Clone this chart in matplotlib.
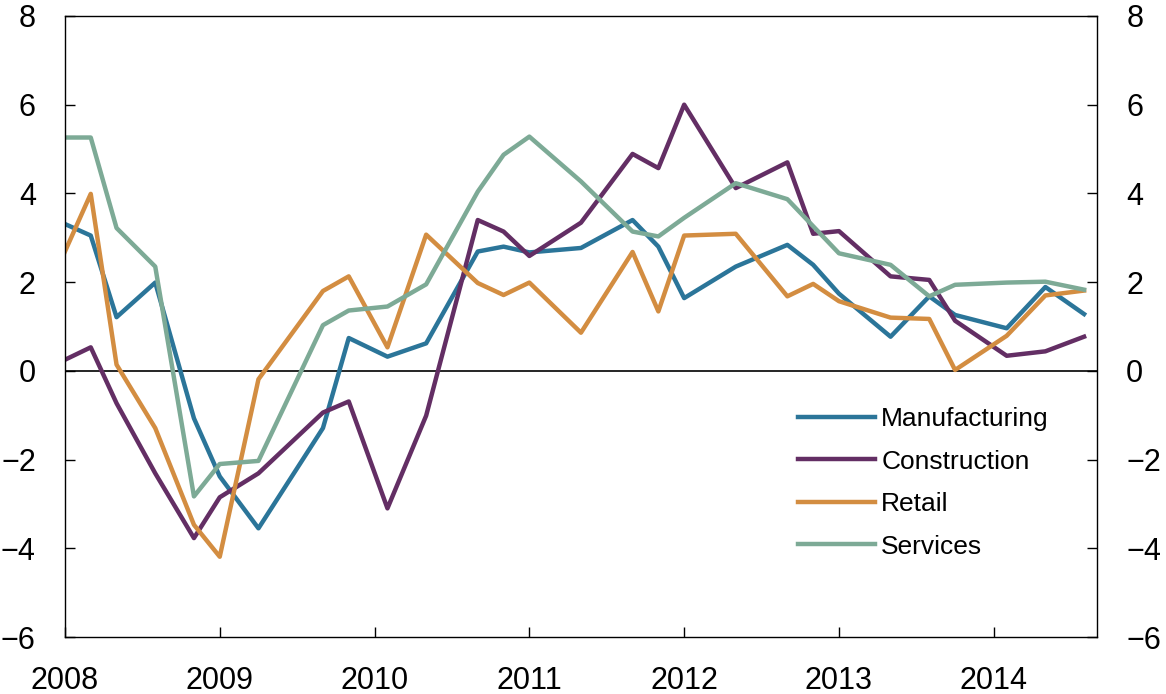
import matplotlib.pyplot as plt

plt.rcParams['font.family'] = ['Liberation Sans', 'DejaVu Sans']

# Survey months
dates = ['2008-01', '2008-03', '2008-05', '2008-08', '2008-11', '2009-01', '2009-04',
         '2009-09', '2009-11', '2010-02', '2010-05', '2010-09', '2010-11', '2011-01',
         '2011-05', '2011-09', '2011-11', '2012-01', '2012-05', '2012-09', '2012-11',
         '2013-01', '2013-05', '2013-08', '2013-10', '2014-02', '2014-05', '2014-08']

manufacturing = [3.31, 3.05, 1.21, 1.99, -1.07, -2.38, -3.55, -1.29, 0.74, 0.32, 0.62,
                 2.69, 2.80, 2.67, 2.77, 3.40, 2.80, 1.64, 2.35, 2.84, 2.39, 1.74,
                 0.77, 1.68, 1.26, 0.96, 1.89, 1.28]
construction = [0.25, 0.53, -0.73, -2.31, -3.77, -2.85, -2.31, -0.94, -0.69, -3.10, -1.01,
                3.40, 3.14, 2.59, 3.34, 4.89, 4.57, 6.00, 4.12, 4.70, 3.09, 3.15,
                2.13, 2.05, 1.13, 0.34, 0.44, 0.77]
retail = [2.69, 3.99, 0.14, -1.29, -3.47, -4.19, -0.19, 1.80, 2.13, 0.53, 3.07,
          1.98, 1.71, 1.99, 0.86, 2.68, 1.34, 3.05, 3.09, 1.68, 1.96, 1.57,
          1.20, 1.17, 0.02, 0.79, 1.70, 1.81]
services = [5.26, 5.26, 3.22, 2.35, -2.83, -2.10, -2.03, 1.03, 1.36, 1.45, 1.95,
            4.04, 4.87, 5.28, 4.27, 3.14, 3.03, 3.45, 4.23, 3.87, 3.26, 2.65,
            2.39, 1.68, 1.94, 1.99, 2.01, 1.83]

years = [2008, 2009, 2010, 2011, 2012, 2013, 2014]
yticks = [-6, -4, -2, 0, 2, 4, 6, 8]

x = [int(d[:4]) + (int(d[5:]) - 1) / 12 for d in dates]

fig = plt.figure(figsize=(11.66, 6.94), dpi=100)
ax = fig.add_axes([0.0557, 0.0821, 0.8851, 0.8949])

ax.axhline(0, color='black', lw=1.2, zorder=1)
ax.plot(x, manufacturing, color='#2b7599', lw=3.2, label='Manufacturing')
ax.plot(x, construction, color='#632e64', lw=3.2, label='Construction')
ax.plot(x, retail, color='#d38d41', lw=3.2, label='Retail')
ax.plot(x, services, color='#7daa96', lw=3.2, label='Services')

ax.set_xlim(2008, 2014 + 8 / 12)
ax.set_ylim(-6, 8)
ax.set_xticks(years)
ax.set_yticks(yticks)
ax.set_yticklabels([str(v).replace('-', '\u2212') for v in yticks])

ax.tick_params(axis='both', direction='in', length=7, width=1, labelsize=22, pad=21)
ax.tick_params(axis='y', right=True, labelright=True)
for s in ax.spines.values():
    s.set_linewidth(1)

ax.legend(loc='upper left', bbox_to_anchor=(0.71, 0.370), frameon=False, fontsize=19,
          handlelength=2.92, handletextpad=0.25, labelspacing=0.70, borderpad=0,
          borderaxespad=0)

fig.savefig('out.png', dpi=100)
